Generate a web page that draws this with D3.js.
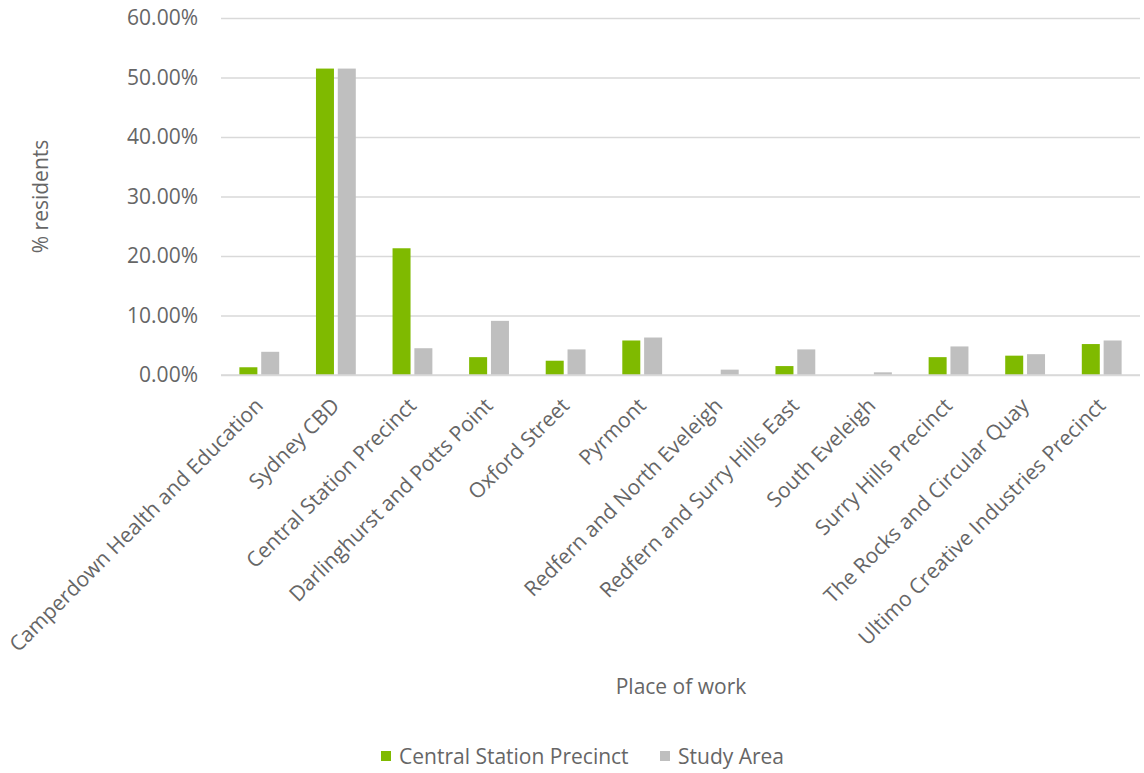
<!DOCTYPE html>
<html>
<head>
<meta charset="utf-8">
<script src="https://cdn.jsdelivr.net/npm/d3@7"></script>
<style>
  html, body { margin: 0; padding: 0; background: #ffffff; }
  svg { display: block; font-family: "Open Sans", "Noto Sans", sans-serif; }
</style>
</head>
<body>
<svg id="chart" width="1144" height="773"></svg>
<script>
// Place of work for residents, share of each group (percent)
const places = [
  "Camperdown Health and Education",
  "Sydney CBD",
  "Central Station Precinct",
  "Darlinghurst and Potts Point",
  "Oxford Street",
  "Pyrmont",
  "Redfern and North Eveleigh",
  "Redfern and Surry Hills East",
  "South Eveleigh",
  "Surry Hills Precinct",
  "The Rocks and Circular Quay",
  "Ultimo Creative Industries Precinct"
];
const centralStation = [1.3, 51.5, 21.3, 3.0, 2.4, 5.8, 0.0, 1.5, 0.0, 3.0, 3.25, 5.2];
const studyArea      = [3.9, 51.5, 4.5, 9.1, 4.3, 6.3, 0.9, 4.3, 0.45, 4.8, 3.5, 5.8];
const seriesNames = ["Central Station Precinct", "Study Area"];
const seriesColors = ["#7FBA00", "#BFBFBF"];
const yTicks = [0, 10, 20, 30, 40, 50, 60];

const svg = d3.select("#chart");
const margin = { left: 221, right: 4, top: 18, bottom: 398 };
const W = 1144, H = 773;
const plotW = W - margin.left - margin.right;
const plotH = H - margin.top - margin.bottom;

const x = d3.scaleBand().domain(places).range([margin.left, margin.left + plotW]).padding(0);
const y = d3.scaleLinear().domain([0, 60]).range([margin.top + plotH, margin.top]);

const textColor = "#666666";
const gridColor = "#D9D9D9";
const fontSize = 21;

// horizontal gridlines + y tick labels
const yAxis = d3.axisLeft(y)
  .tickValues(yTicks)
  .tickSize(-plotW)
  .tickPadding(23)
  .tickFormat(d => d.toFixed(2) + "%");
const gy = svg.append("g")
  .attr("transform", `translate(${margin.left},0)`)
  .call(yAxis);
gy.select(".domain").remove();
gy.selectAll(".tick line").attr("stroke", gridColor).attr("stroke-width", 1.5);
gy.selectAll(".tick text")
  .attr("fill", textColor)
  .attr("font-size", fontSize)
  .attr("font-family", "'Open Sans', sans-serif");

// grouped bars
const bw = x.bandwidth();
const barW = bw * 0.235;
const gap = bw * 0.05;
const groupW = barW * 2 + gap;
const rows = places.map((p, i) => ({ place: p, values: [centralStation[i], studyArea[i]] }));

const groups = svg.append("g").selectAll("g")
  .data(rows)
  .join("g")
  .attr("transform", d => `translate(${x(d.place) + (bw - groupW) / 2},0)`);

groups.selectAll("rect")
  .data(d => d.values.map((v, k) => ({ v, k })))
  .join("rect")
  .attr("x", d => d.k * (barW + gap))
  .attr("width", barW)
  .attr("y", d => y(d.v))
  .attr("height", d => y(0) - y(d.v))
  .attr("fill", d => seriesColors[d.k]);

// baseline
svg.append("line")
  .attr("x1", margin.left).attr("x2", margin.left + plotW)
  .attr("y1", y(0)).attr("y2", y(0))
  .attr("stroke", gridColor).attr("stroke-width", 1.5);

// rotated category labels
const xAxis = d3.axisBottom(x).tickSize(0).tickPadding(0);
const gx = svg.append("g")
  .attr("transform", `translate(0,${y(0)})`)
  .call(xAxis);
gx.select(".domain").remove();
gx.selectAll(".tick text")
  .attr("fill", textColor)
  .attr("font-size", fontSize)
  .attr("font-family", "'Open Sans', sans-serif")
  .attr("text-anchor", "end")
  .attr("dy", null)
  .attr("transform", "translate(5,32) rotate(-45)");

// axis titles
svg.append("text")
  .attr("transform", `translate(48,${margin.top + plotH / 2}) rotate(-90)`)
  .attr("text-anchor", "middle")
  .attr("fill", textColor)
  .attr("font-size", fontSize)
  .text("% residents");

svg.append("text")
  .attr("x", 681).attr("y", 694)
  .attr("text-anchor", "middle")
  .attr("fill", textColor)
  .attr("font-size", fontSize)
  .text("Place of work");

// legend
const legendX = [381, 660];
const legend = svg.append("g").selectAll("g")
  .data(seriesNames)
  .join("g")
  .attr("transform", (d, i) => `translate(${legendX[i]},751)`);
legend.append("rect")
  .attr("width", 10).attr("height", 10)
  .attr("fill", (d, i) => seriesColors[i]);
legend.append("text")
  .attr("x", 18).attr("y", 13)
  .attr("fill", textColor)
  .attr("font-size", fontSize)
  .text(d => d);
</script>
</body>
</html>
